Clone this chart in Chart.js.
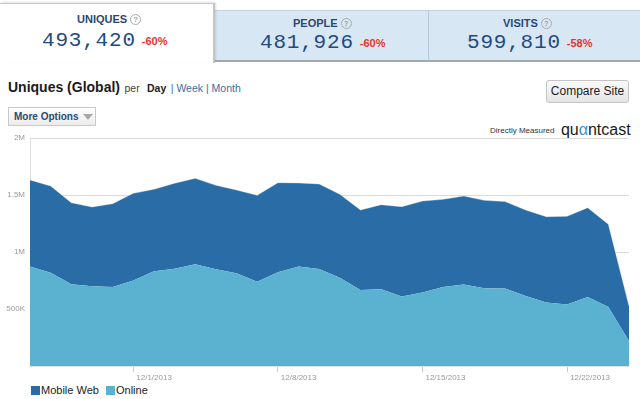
<!DOCTYPE html>
<html>
<head>
<meta charset="utf-8">
<script src="https://cdn.jsdelivr.net/npm/chart.js@4/dist/chart.umd.min.js"></script>
<style>
  html,body{margin:0;padding:0;background:#fff;}
  body{width:640px;height:399px;position:relative;overflow:hidden;font-family:"Liberation Sans",Arial,sans-serif;}
  .abs{position:absolute;}
  .tab{position:absolute;box-sizing:border-box;}
  .lbl{position:absolute;font-weight:bold;font-size:11px;color:#2b4775;white-space:nowrap;}
  .q{display:inline-block;width:9px;height:9px;border:1px solid #aaa;border-radius:50%;font-size:7px;line-height:9px;text-align:center;color:#999;font-weight:bold;margin-left:3px;vertical-align:1px;}
  .num{position:absolute;font-family:"Liberation Mono","DejaVu Sans Mono",monospace;font-size:21px;letter-spacing:0.8px;color:#1f4a82;white-space:nowrap;}
  .pct{font-family:"Liberation Sans",Arial,sans-serif;font-size:11px;font-weight:bold;color:#e8322b;letter-spacing:0;margin-left:6px;vertical-align:1px;}
  .leg{position:absolute;top:384px;font-size:11px;color:#222;white-space:nowrap;}
  .leg i{display:inline-block;width:9px;height:9px;margin-right:1px;vertical-align:-1px;}
</style>
</head>
<body>
<!-- header tabs -->
<div class="tab" style="left:215px;top:10px;width:213px;height:52px;background:#d8e7f4;border-top:1px solid #c3d2e0;border-bottom:2px solid #a3a8ad;"></div>
<div class="tab" style="left:428px;top:10px;width:212px;height:52px;background:#d8e7f4;border-top:1px solid #c3d2e0;border-left:1px solid #b8c7d5;border-bottom:2px solid #a3a8ad;"></div>
<div class="tab" style="left:0;top:3px;width:215px;height:60px;background:#fff;border-top:1px solid #c8c8c8;border-right:2px solid #c4c4c4;box-shadow:1px -1px 2px rgba(0,0,0,0.12);"></div>

<div class="lbl" style="left:77px;top:13px;">UNIQUES<span class="q">?</span></div>
<div class="num" style="left:42px;top:29px;">493,420<span class="pct">-60%</span></div>

<div class="lbl" style="left:293px;top:17px;">PEOPLE<span class="q">?</span></div>
<div class="num" style="left:260px;top:31px;">481,926<span class="pct">-60%</span></div>

<div class="lbl" style="left:503px;top:17px;">VISITS<span class="q">?</span></div>
<div class="num" style="left:467px;top:31px;">599,810<span class="pct">-58%</span></div>

<!-- title row -->
<div class="abs" style="left:8px;top:78px;white-space:nowrap;">
  <span style="font-size:14px;font-weight:bold;color:#1a1a1a;">Uniques (Global)</span>
  <span style="font-size:10.5px;color:#444;">per</span>
  <span style="font-size:10.5px;font-weight:bold;color:#222;">&nbsp;Day</span>
  <span style="font-size:10.5px;color:#3a6ea5;">| Week | Month</span>
</div>

<div class="abs" style="left:8px;top:107px;width:86px;height:17px;border:1px solid #c9c9c9;background:linear-gradient(#fdfdfd,#ececec);box-sizing:content-box;">
  <span style="position:absolute;left:5px;top:3px;font-size:10px;font-weight:bold;color:#2b4a72;">More Options</span>
  <span style="position:absolute;left:74px;top:6px;width:0;height:0;border-left:5px solid transparent;border-right:5px solid transparent;border-top:6px solid #a8a8a8;"></span>
</div>

<div class="abs" style="left:546px;top:80px;width:81px;height:21px;border:1px solid #c4c4c4;border-radius:3px;background:linear-gradient(#fafafa,#e4e4e4);font-size:12px;color:#222;text-align:center;line-height:21px;">Compare Site</div>

<div class="abs" style="left:490px;top:121px;white-space:nowrap;">
  <span style="font-size:8px;color:#333;vertical-align:2px;">Directly Measured</span>
  <span style="font-size:16px;color:#1a1a1a;letter-spacing:0px;margin-left:2px;">qu<span style="color:#3b8fd6;">α</span>ntcast</span>
</div>

<!-- chart -->
<div class="abs" style="left:0;top:128px;width:640px;height:256px;">
  <canvas id="c" width="640" height="256"></canvas>
</div>

<div class="leg" style="left:31px;"><i style="background:#2a6ca5;"></i>Mobile Web</div>
<div class="leg" style="left:106px;"><i style="background:#5bb1d0;"></i>Online</div>

<script>
const dates = ["11/26/2013","11/27/2013","11/28/2013","11/29/2013","11/30/2013","12/1/2013","12/2/2013","12/3/2013","12/4/2013","12/5/2013","12/6/2013","12/7/2013","12/8/2013","12/9/2013","12/10/2013","12/11/2013","12/12/2013","12/13/2013","12/14/2013","12/15/2013","12/16/2013","12/17/2013","12/18/2013","12/19/2013","12/20/2013","12/21/2013","12/22/2013","12/23/2013","12/24/2013","12/25/2013"];
const tickDates = ["12/1/2013","12/8/2013","12/15/2013","12/22/2013"];
const online = [872000,819000,717000,699000,693000,749000,831000,854000,892000,848000,813000,740000,822000,872000,851000,775000,667000,673000,609000,644000,693000,714000,682000,679000,614000,556000,539000,605000,518000,219000];
const mobileWeb = [760000,760000,716000,696000,731000,766000,719000,749000,754000,737000,731000,757000,786000,734000,746000,731000,701000,742000,789000,803000,769000,777000,771000,763000,754000,754000,774000,784000,725000,307000];
const yTicks = {500000:"500K",1000000:"1M",1500000:"1.5M",2000000:"2M"};

new Chart(document.getElementById('c'), {
  type: 'line',
  data: {
    labels: dates,
    datasets: [
      {label:'Online', data: online, backgroundColor:'#5bb1d0', borderWidth:0, pointRadius:0, fill:'origin', tension:0},
      {label:'Mobile Web', data: mobileWeb, backgroundColor:'#2a6ca5', borderColor:'rgba(255,255,255,0.35)', borderWidth:1, pointRadius:0, fill:'-1', tension:0}
    ]
  },
  options: {
    responsive:false, animation:false,
    layout:{padding:{top:10,right:11,left:0,bottom:0}},
    plugins:{legend:{display:false}, tooltip:{enabled:false}},
    scales:{
      x:{
        grid:{drawOnChartArea:false, drawTicks:true, tickLength:6,
              color:(ctx)=> (ctx.tick && tickDates.includes(dates[ctx.index])) ? '#c8c8c8' : 'rgba(0,0,0,0)'},
        border:{display:true, color:'rgba(0,0,0,0.12)'},
        ticks:{autoSkip:false, maxRotation:0, align:'start', labelOffset:3, padding:1,
               font:{size:8, family:'"Liberation Sans", Arial, sans-serif'}, color:'#999',
               callback:(v,i)=> tickDates.includes(dates[i]) ? dates[i] : ''},
        afterFit:(s)=>{s.height=18;}
      },
      y:{
        stacked:true, min:0, max:2000000, z:1,
        grid:{color:(ctx)=> ctx.tick && ctx.tick.value===0 ? 'rgba(0,0,0,0)' : 'rgba(0,0,0,0.14)', drawTicks:false},
        border:{display:true, color:'#dcdcdc'},
        ticks:{stepSize:500000, padding:5, font:{size:8, family:'"Liberation Sans", Arial, sans-serif'}, color:'#9a9a9a',
               callback:(v)=> yTicks[v] || ''},
        afterFit:(s)=>{s.width=30;}
      }
    }
  }
});
</script>
</body>
</html>
